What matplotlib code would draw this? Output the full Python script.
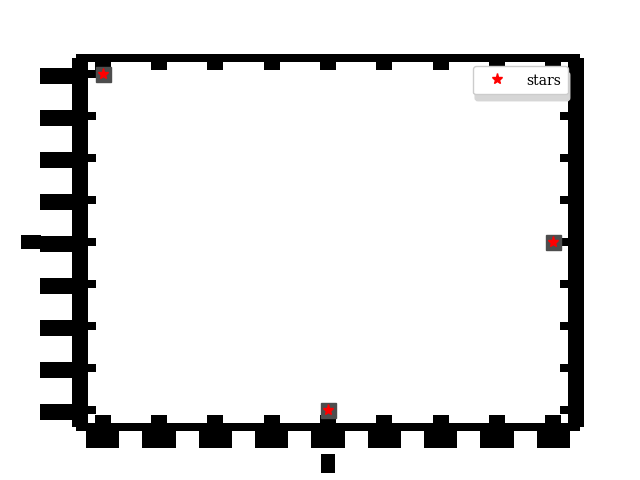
import matplotlib
matplotlib.use("Agg")
import matplotlib.pyplot as plt

# data
x = [1, 2, 3]
y = [3, 1, 2]
series_label = "stars"
xlabel = "x"
ylabel = "y"

PX = 72 / 100.0  # points per pixel at dpi 100

fig, ax = plt.subplots(figsize=(6.4, 4.8), dpi=100)

# dark square under each star (blocky look of the reference)
ax.plot(x, y, linestyle="none", marker="s", markersize=15 * PX,
        color="#4d4d4d", zorder=2)
ax.plot(x, y, linestyle="none", marker="*", markersize=8,
        color="red", label=series_label, zorder=3)

ax.set_xlabel(xlabel, labelpad=7)
ax.set_ylabel(ylabel, labelpad=2)

# thick blocky spines
for side in ("left", "right"):
    ax.spines[side].set_linewidth(16 * PX)
    ax.spines[side].set_capstyle("butt")
for side in ("top", "bottom"):
    ax.spines[side].set_linewidth(8 * PX)
    ax.spines[side].set_capstyle("projecting")

ax.tick_params(axis="x", direction="in", top=True, bottom=True,
               length=12 * PX, width=16 * PX, pad=4.0)
ax.tick_params(axis="y", direction="in", left=True, right=True,
               length=16 * PX, width=8 * PX, pad=6.0)

fig.canvas.draw()
for lab in ax.get_xticklabels() + ax.get_yticklabels():
    lab.set_bbox(dict(boxstyle="square,pad=0.1", fc="black", ec="none"))
for lab in (ax.xaxis.label, ax.yaxis.label):
    lab.set_bbox(dict(boxstyle="square,pad=0.2", fc="black", ec="none"))

leg = ax.legend(loc="upper right", fancybox=True,
                shadow={"ox": 1.5, "oy": -4.5, "facecolor": "#d6d6d6",
                        "edgecolor": "#d6d6d6", "alpha": 1},
                prop={"family": "DejaVu Serif", "size": 10},
                handlelength=2.6, handleheight=1.4, handletextpad=0.8,
                borderpad=0.45, borderaxespad=0.6, framealpha=1)
leg.set_zorder(5)

fig.savefig("out.png", dpi=100)
